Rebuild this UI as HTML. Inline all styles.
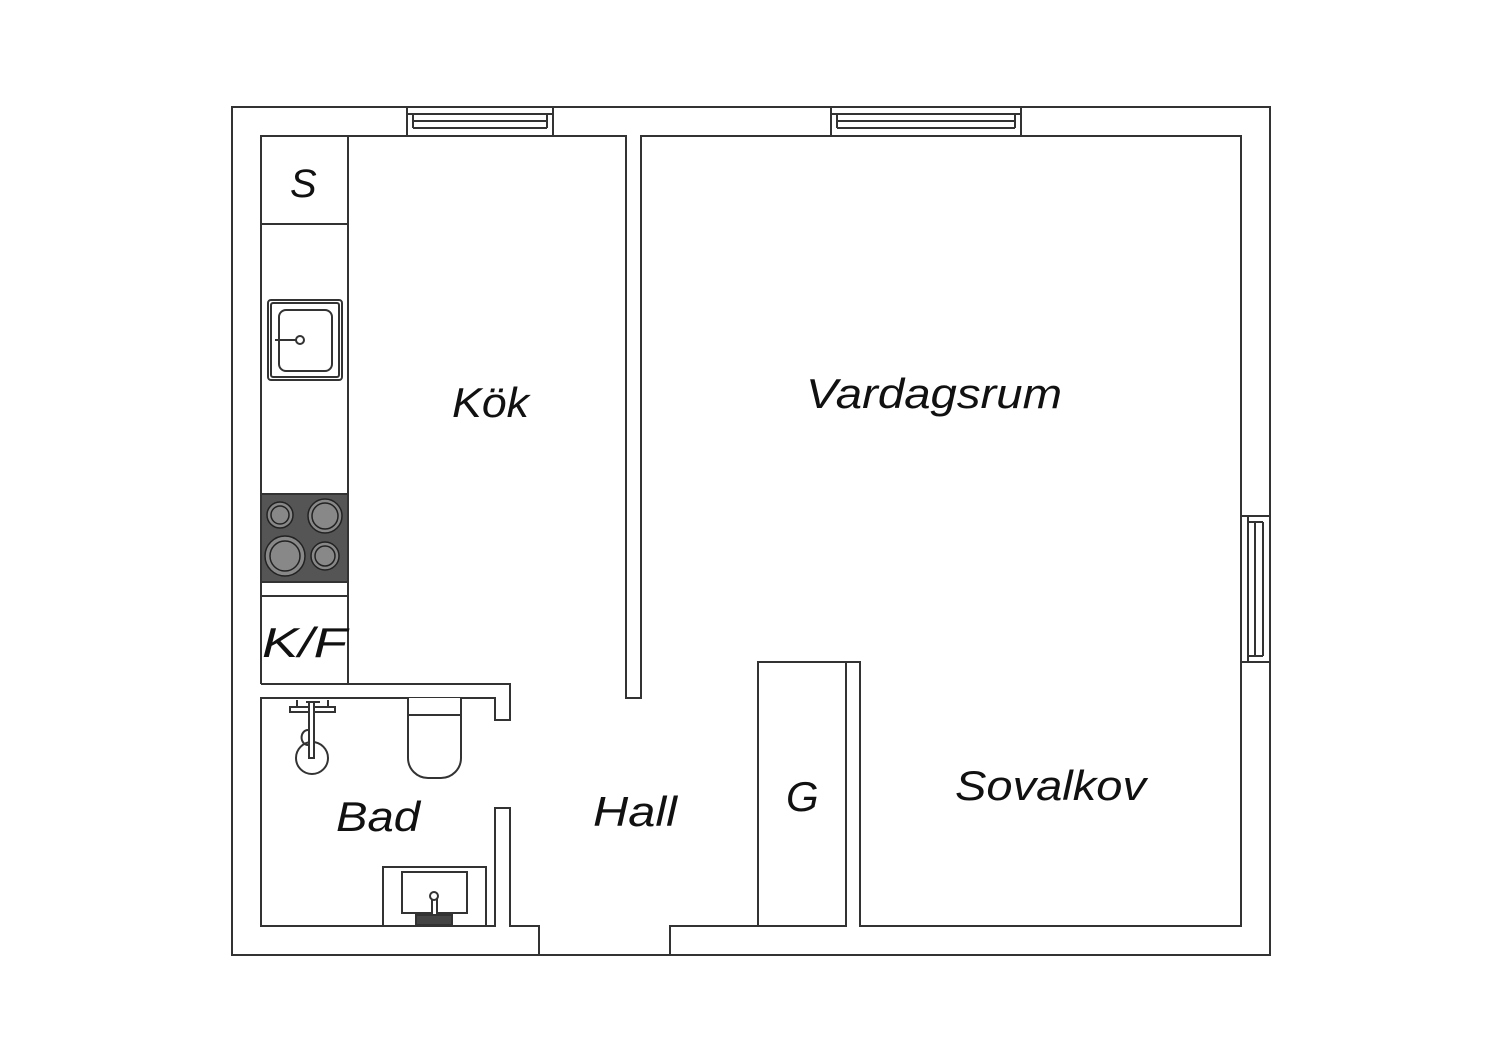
<!DOCTYPE html>
<html><head><meta charset="utf-8"><style>
html,body{margin:0;padding:0;background:#fff}
svg{display:block}
text{font-family:"Liberation Sans",sans-serif;font-style:italic;fill:#111}
</style></head><body>
<svg width="1500" height="1060" viewBox="0 0 1500 1060" xmlns="http://www.w3.org/2000/svg">
<g fill="none" stroke="#333" stroke-width="2">
<rect x="232" y="107" width="1038" height="848" fill="#fff"/>
<path d="M261,684 V136 H626 V698 H641 V136 H1241 V926 H860 V662 H846 V926 H670 V955"/>
<path d="M539,955 V926 H510 V808 H495 V926 H261 V698 H495 V720 H510 V684 H261"/>
<rect x="758" y="662" width="88" height="264"/>
<path d="M348,136 V684 M261,224 H348 M261,596 H348"/>
<rect x="407" y="107" width="146" height="29" fill="#fff"/>
<path d="M407,114 H553 M413,121 H547 M413,128 H547 M413,114 V128 M547,114 V128"/>
<rect x="831" y="107" width="190" height="29" fill="#fff"/>
<path d="M831,114 H1021 M837,121 H1015 M837,128 H1015 M837,114 V128 M1015,114 V128"/>
<rect x="1241" y="516" width="29" height="146" fill="#fff"/>
<path d="M1248,516 V662 M1255,522 V656 M1263,522 V656 M1248,522 H1263 M1248,656 H1263"/>
<rect x="268" y="300" width="74" height="80" rx="3"/>
<rect x="271" y="303" width="68" height="74" rx="2"/>
<rect x="279" y="310" width="53" height="61" rx="7"/>
<circle cx="300" cy="340" r="4"/>
<path d="M275,340 H296"/>
<rect x="261" y="494" width="87" height="88" fill="#555"/>
</g>
<g stroke="#222" stroke-width="1.5" fill="#888">
<circle cx="280" cy="515" r="13"/><circle cx="280" cy="515" r="9"/>
<circle cx="325" cy="516" r="17"/><circle cx="325" cy="516" r="13"/>
<circle cx="285" cy="556" r="20"/><circle cx="285" cy="556" r="15"/>
<circle cx="325" cy="556" r="14"/><circle cx="325" cy="556" r="10"/>
</g>
<g fill="#fff" stroke="#333" stroke-width="2">
<path d="M408,698 V758 A20,20 0 0 0 428,778 H441 A20,20 0 0 0 461,758 V698"/>
<path d="M408,715 H461" fill="none"/>
<circle cx="312" cy="758" r="16"/>
<path d="M290,707 H335 V712 H290 Z"/>
<path d="M297,700 V707 M328,700 V707 M306,702 H320" fill="none"/>
<path d="M308,730 A6,7 0 1 0 308,745" fill="none"/>
<rect x="309" y="702" width="5" height="56"/>
<rect x="383" y="867" width="103" height="59"/>
<rect x="402" y="872" width="65" height="41"/>
<rect x="432" y="897" width="5" height="22"/>
<circle cx="434" cy="896" r="4"/>
<rect x="416" y="915" width="36" height="10" fill="#444"/>
</g>
<g font-size="42">
<text x="290" y="197" font-size="40">S</text>
<text x="452" y="417" textLength="77" lengthAdjust="spacingAndGlyphs">Kök</text>
<text x="806" y="408" textLength="256" lengthAdjust="spacingAndGlyphs">Vardagsrum</text>
<text x="262" y="657" textLength="85" lengthAdjust="spacingAndGlyphs">K/F</text>
<text x="336" y="831" textLength="84" lengthAdjust="spacingAndGlyphs">Bad</text>
<text x="593" y="826" textLength="84" lengthAdjust="spacingAndGlyphs">Hall</text>
<text x="786" y="811">G</text>
<text x="955" y="800" textLength="191" lengthAdjust="spacingAndGlyphs">Sovalkov</text>
</g>
</svg>
</body></html>
